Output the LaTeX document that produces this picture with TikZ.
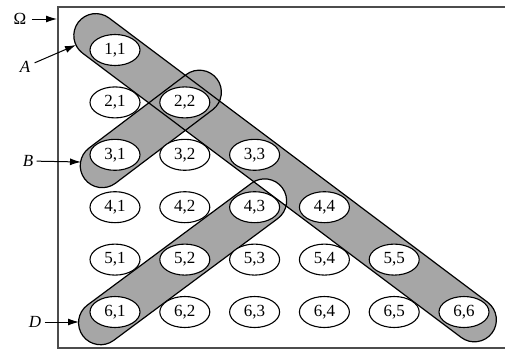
\documentclass[tikz,border=0pt]{standalone}
\usepackage{fontspec}
\setmainfont{Liberation Serif}
\usetikzlibrary{shapes.geometric,arrows.meta}
\definecolor{capgray}{RGB}{166,166,166}
\begin{document}
\begin{tikzpicture}[x=1pt,y=-1pt,
  cell/.style={ellipse,draw=black,line width=1.1pt,fill=white,minimum width=50pt,minimum height=31pt,inner sep=0pt,font=\fontsize{17}{17}\selectfont},
  lab/.style={font=\fontsize{17}{17}\selectfont},
  pointer/.style={line width=1pt,-{Latex[length=11pt,width=7pt]}},
  capfill/.style={fill=capgray,even odd rule},
  capline/.style={draw=black,line width=1.2pt},
  frame/.style={draw=black!70,line width=1.2pt}]
\useasboundingbox (0,0) rectangle (505,351);
\draw[frame] (506,7) -- (58,7) -- (58,348) -- (506,348);
% capsules (events A, B, D): fills
\path[capfill]
  {[shift={(115,156)},rotate=37.1,rounded corners=22pt] (-38,-22) rectangle (127.8,22)};
\path[capfill]
  {[shift={(115,50)},rotate=-36.9,rounded corners=22pt] (-46,-22) rectangle (471.4,22)}
  {[shift={(115,312)},rotate=36.6,rounded corners=22pt] (-40,-22) rectangle (208.4,22)};
% capsules: outlines
\path[capline]
  {[shift={(115,50)},rotate=-36.9,rounded corners=22pt] (-46,-22) rectangle (471.4,22)}
  {[shift={(115,156)},rotate=37.1,rounded corners=22pt] (-38,-22) rectangle (127.8,22)}
  {[shift={(115,312)},rotate=36.6,rounded corners=22pt] (-40,-22) rectangle (208.4,22)};
% outcomes
\foreach \i in {1,...,6} {
  \foreach \j in {1,...,\i} {
    \node[cell] (c\i\j) at ({115+69.8*(\j-1)},{50+52.4*(\i-1)}) {\i,\j};
  }
}
% labels
\node[lab] (om) at (20,19) {Ω};
\coordinate (omt) at (57,19);
\draw[pointer,shorten <=2pt] (om) -- (omt);
\node[lab,font=\fontsize{17}{17}\selectfont\itshape] (la) at (25,67) {A};
\coordinate (lat) at (76,45);
\draw[pointer,shorten <=1pt] (la) -- (lat);
\node[lab,font=\fontsize{17}{17}\selectfont\itshape] (lb) at (28,161) {B};
\coordinate (lbt) at (81,162);
\draw[pointer] (lb) -- (lbt);
\node[lab,font=\fontsize{17}{17}\selectfont\itshape] (ld) at (35,322) {D};
\coordinate (ldt) at (79,322);
\draw[pointer] (ld) -- (ldt);
\end{tikzpicture}
\end{document}
